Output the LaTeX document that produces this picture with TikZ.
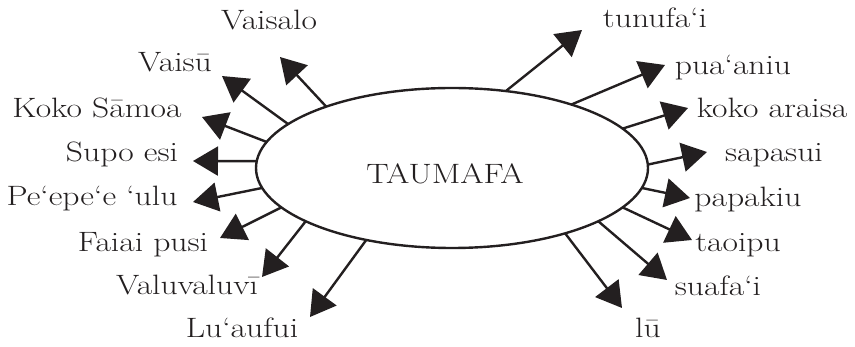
\documentclass[tikz,border=0pt]{standalone}
\usepackage{graphicx}
\usetikzlibrary{arrows.meta,shapes.geometric}
\definecolor{ink}{HTML}{231F20}
\newcommand{\wtxt}[1]{\scalebox{1.2}[1]{#1}}
\tikzset{
  lab/.style={anchor=base, inner sep=0pt, text=ink, font=\fontsize{28}{32}\selectfont},
  arr/.style={draw=ink, line width=2.4pt, -{Triangle[length=25pt,width=29pt]}, fill=ink},
  ell/.style={draw=ink, line width=2.4pt, ellipse, minimum width=392pt, minimum height=160pt, inner sep=0pt, outer sep=0pt}
}
\begin{document}
\begin{tikzpicture}[x=1pt,y=-1pt]
\useasboundingbox (0,0) rectangle (855,347);
\node[ell] (E) at (452,168) {};
\node[lab] (T) at (445,184) {\wtxt{TAUMAFA}};
% tips
\coordinate (t1) at (280,57);
\coordinate (t2) at (222,76);
\coordinate (t3) at (202,117);
\coordinate (t4) at (193,161);
\coordinate (t5) at (193,202);
\coordinate (t6) at (220,238);
\coordinate (t7) at (262,277);
\coordinate (t8) at (310,317);
\coordinate (t9) at (582,30);
\coordinate (t10) at (665,65);
\coordinate (t11) at (688,108);
\coordinate (t12) at (707,152);
\coordinate (t13) at (690,198);
\coordinate (t14) at (692,240);
\coordinate (t15) at (667,280);
\coordinate (t16) at (622,308);
\draw[arr] (E.154.2) -- (t1);
\draw[arr] (E.165.6) -- (t2);
\draw[arr] (E.172.0) -- (t3);
\draw[arr] (E.178.2) -- (t4);
\draw[arr] (E.186.9) -- (t5);
\draw[arr] (E.193.9) -- (t6);
\draw[arr] (E.200.0) -- (t7);
\draw[arr] (E.220.3) -- (t8);
\draw[arr] (E.55.1) -- (t9);
\draw[arr] (E.28.1) -- (t10);
\draw[arr] (E.13.2) -- (t11);
\draw[arr] (E.1.7) -- (t12);
\draw[arr] (E.354.1) -- (t13);
\draw[arr] (E.347.6) -- (t14);
\draw[arr] (E.340.6) -- (t15);
\draw[arr] (E.330.0) -- (t16);
% labels
\node[lab] (l1) at (269,30) {\wtxt{Vaisalo}};
\node[lab] (l2) at (175,72) {\wtxt{Vaisū}};
\node[lab] (l3) at (97,118) {\wtxt{Koko Sāmoa}};
\node[lab] (l4) at (122,162) {\wtxt{Supo esi}};
\node[lab] (l5) at (92,206) {\wtxt{Pe‘epe‘e ‘ulu}};
\node[lab] (l6) at (143,252) {\wtxt{Faiai pusi}};
\node[lab] (l7) at (187,295) {\wtxt{Valuvaluvī}};
\node[lab] (l8) at (242,338) {\wtxt{Lu‘aufui}};
\node[lab] (l9) at (655,28) {\wtxt{tunufa‘i}};
\node[lab] (l10) at (733,75) {\wtxt{pua‘aniu}};
\node[lab] (l11) at (772,118) {\wtxt{koko araisa}};
\node[lab] (l12) at (774,162) {\wtxt{sapasui}};
\node[lab] (l13) at (748,207) {\wtxt{papakiu}};
\node[lab] (l14) at (738,252) {\wtxt{taoipu}};
\node[lab] (l15) at (718,296) {\wtxt{suafa‘i}};
\node[lab] (l16) at (648,338) {\wtxt{lū}};
\end{tikzpicture}
\end{document}
